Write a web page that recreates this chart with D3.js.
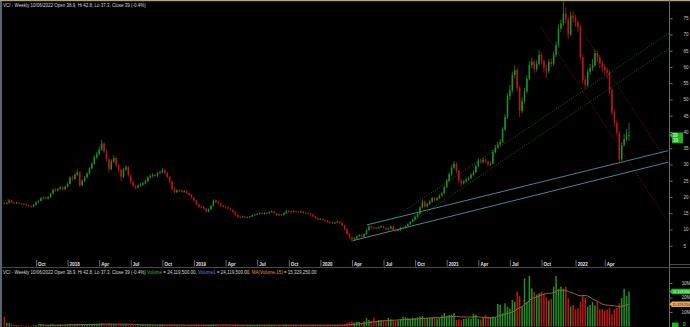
<!DOCTYPE html>
<html>
<head>
<meta charset="utf-8">
<script src="https://cdn.jsdelivr.net/npm/d3@7"></script>
<style>
  html, body { margin: 0; padding: 0; background: #000; }
  svg { display: block; font-family: "Liberation Sans", Arial, sans-serif; }
</style>
</head>
<body>
<svg id="chart" width="690" height="327"></svg>
<script>
// weekly bars, VCI, from 07/07/2017 to 10/06/2022
const closes = [
  18.0, 18.2, 19.0, 18.3, 18.1, 18.2, 18.0, 17.9, 17.8, 17.5,
  17.2, 17.0, 17.6, 18.4, 18.8, 19.6, 19.8, 19.5, 19.9, 21.0,
  22.2, 22.0, 22.5, 22.9, 22.4, 23.2, 24.0, 26.0, 25.6, 26.8,
  27.6, 23.6, 25.0, 26.0, 27.2, 28.8, 30.2, 32.2, 33.2, 34.6,
  36.4, 34.0, 31.5, 28.6, 31.0, 32.0, 29.8, 28.4, 26.2, 28.5,
  29.2, 26.6, 24.6, 23.4, 22.9, 23.5, 23.8, 24.2, 24.8, 26.0,
  26.4, 26.8, 26.5, 27.3, 27.6, 28.3, 27.4, 26.2, 24.8, 22.6,
  21.5, 22.0, 21.9, 21.6, 21.8, 21.2, 20.6, 19.8, 18.9, 17.8,
  17.0, 16.9, 16.5, 15.6, 16.2, 17.3, 18.9, 18.4, 18.0, 17.4,
  17.0, 16.8, 16.5, 16.0, 15.4, 14.5, 13.9, 13.8, 14.0, 13.7,
  13.8, 14.0, 14.4, 14.6, 14.8, 15.0, 14.8, 15.1, 15.0, 15.3,
  15.5, 15.0, 14.5, 14.6, 14.5, 15.0, 15.7, 15.6, 15.4, 15.6,
  15.5, 15.4, 15.5, 15.1, 15.0, 14.9, 14.6, 14.0, 13.5, 13.1,
  13.2, 12.9, 12.7, 12.4, 12.2, 12.0, 12.1, 12.4, 12.0, 11.3,
  10.1, 8.7, 7.6, 7.0, 7.2, 7.9, 8.3, 7.8, 8.6, 9.8,
  10.9, 10.6, 10.5, 10.4, 10.7, 10.9, 10.5, 10.1, 10.3, 10.9,
  9.8, 9.6, 9.8, 10.5, 10.5, 11.0, 11.6, 12.3, 13.0, 13.9,
  14.8, 16.8, 18.6, 17.1, 17.8, 18.6, 19.7, 19.1, 19.6, 20.4,
  21.1, 23.0, 25.0, 27.0, 29.0, 30.2, 28.0, 25.0, 24.2, 24.8,
  25.4, 25.8, 26.8, 27.6, 29.5, 31.2, 30.8, 31.4, 30.9, 30.0,
  30.2, 33.8, 35.2, 36.2, 37.0, 40.8, 44.6, 51.0, 52.8, 57.5,
  59.0, 53.5, 46.5, 49.5, 52.5, 56.4, 60.6, 61.5, 59.4, 61.0,
  63.7, 61.8, 59.6, 58.8, 61.5, 61.0, 63.8, 66.8, 71.8, 73.4,
  76.4, 74.6, 70.0, 75.8, 75.0, 73.8, 72.2, 63.0, 56.0, 54.5,
  58.5, 59.6, 60.5, 64.2, 63.0, 61.0, 60.0, 59.0, 58.2, 53.0,
  46.0, 42.8, 39.8, 31.6, 36.0, 37.8, 38.9, 39.0
];
const highs = [
  18.4, 18.5, 19.4, 19.1, 18.6, 18.5, 18.4, 18.2, 18.1, 17.9,
  17.6, 17.4, 17.8, 18.6, 19.0, 19.9, 20.2, 20.1, 20.3, 21.3,
  22.6, 22.8, 22.9, 23.3, 23.2, 23.6, 24.5, 26.4, 26.6, 27.3,
  28.4, 27.9, 25.4, 26.5, 27.6, 29.2, 30.8, 32.8, 33.9, 35.6,
  37.6, 36.8, 34.5, 32.0, 31.6, 32.8, 32.4, 30.2, 28.8, 29.0,
  29.8, 29.6, 27.0, 25.0, 23.8, 23.9, 24.2, 24.6, 25.3, 26.5,
  26.9, 27.3, 27.2, 27.8, 28.1, 29.0, 28.6, 27.7, 26.5, 25.0,
  23.0, 22.4, 22.4, 22.2, 22.1, 22.0, 21.4, 20.9, 20.0, 19.1,
  18.0, 17.3, 17.1, 16.7, 16.5, 17.5, 19.3, 19.2, 18.7, 18.2,
  17.6, 17.2, 17.0, 16.7, 16.2, 15.6, 14.7, 14.2, 14.3, 14.2,
  14.0, 14.2, 14.6, 14.8, 15.1, 15.3, 15.2, 15.4, 15.4, 15.6,
  15.9, 15.7, 15.2, 14.9, 14.8, 15.3, 16.0, 16.0, 15.8, 15.9,
  15.8, 15.7, 15.8, 15.7, 15.3, 15.2, 15.1, 14.8, 14.2, 13.7,
  13.5, 13.4, 13.1, 12.9, 12.6, 12.4, 12.4, 12.7, 12.6, 12.1,
  11.5, 10.3, 8.9, 7.9, 7.6, 8.2, 8.7, 8.6, 8.9, 10.1,
  11.3, 11.2, 10.9, 10.8, 11.0, 11.2, 11.1, 10.7, 10.6, 11.2,
  11.0, 10.0, 10.1, 10.8, 10.8, 11.3, 11.9, 12.6, 13.4, 14.3,
  15.2, 17.2, 19.2, 18.9, 18.2, 19.0, 20.1, 20.0, 20.0, 20.8,
  21.6, 23.5, 25.6, 27.6, 29.8, 31.0, 30.6, 28.4, 25.6, 25.3,
  25.9, 26.3, 27.3, 28.2, 30.1, 32.0, 31.8, 32.0, 31.9, 31.3,
  30.9, 34.5, 36.0, 37.0, 37.9, 41.5, 45.5, 52.0, 54.5, 58.6,
  60.5, 59.8, 54.2, 50.6, 53.6, 57.4, 61.8, 62.8, 62.2, 62.0,
  65.2, 64.4, 62.4, 60.6, 62.4, 62.6, 64.8, 67.8, 73.0, 74.6,
  80.2, 78.4, 75.4, 77.0, 77.2, 76.0, 74.6, 73.0, 64.0, 57.2,
  59.4, 61.0, 62.4, 65.4, 65.0, 63.6, 62.0, 60.8, 59.8, 58.8,
  53.6, 47.0, 43.6, 40.4, 36.8, 39.4, 40.8, 42.8
];
const lows = [
  17.7, 17.8, 18.0, 18.1, 17.9, 17.9, 17.8, 17.6, 17.5, 17.2,
  16.9, 16.7, 16.8, 17.4, 18.2, 18.6, 19.3, 19.2, 19.2, 19.7,
  20.8, 21.6, 21.7, 22.2, 22.0, 22.1, 22.9, 23.8, 25.0, 25.3,
  26.4, 23.2, 23.3, 24.6, 25.7, 26.9, 28.5, 29.9, 31.6, 32.8,
  34.2, 33.4, 31.0, 27.6, 28.2, 30.4, 29.2, 27.6, 24.9, 25.8,
  28.0, 26.2, 24.0, 23.0, 22.4, 22.6, 23.1, 23.4, 23.9, 24.5,
  25.6, 26.0, 26.1, 26.2, 27.0, 27.3, 27.0, 25.8, 24.3, 21.8,
  21.1, 21.2, 21.5, 21.2, 21.3, 20.9, 20.2, 19.5, 18.6, 17.5,
  16.7, 16.5, 16.2, 15.2, 15.3, 16.0, 17.1, 18.1, 17.7, 17.1,
  16.7, 16.5, 16.2, 15.7, 15.1, 14.2, 13.6, 13.5, 13.6, 13.4,
  13.5, 13.6, 13.8, 14.2, 14.4, 14.6, 14.6, 14.6, 14.8, 14.8,
  15.1, 14.8, 14.2, 14.3, 14.2, 14.3, 14.8, 15.3, 15.1, 15.2,
  15.2, 15.1, 15.2, 14.9, 14.7, 14.6, 14.3, 13.7, 13.2, 12.8,
  12.9, 12.6, 12.4, 12.1, 11.9, 11.7, 11.8, 11.9, 11.7, 11.0,
  9.7, 8.4, 7.2, 6.2, 6.6, 7.0, 7.7, 7.5, 7.6, 8.4,
  9.6, 10.3, 10.2, 10.1, 10.2, 10.5, 10.3, 9.9, 9.9, 10.1,
  9.6, 9.3, 9.4, 9.6, 10.2, 10.3, 10.8, 11.4, 12.1, 12.8,
  13.6, 14.6, 16.5, 16.7, 16.8, 17.5, 18.3, 18.7, 18.8, 19.3,
  20.1, 20.8, 22.7, 24.6, 26.6, 28.5, 27.2, 24.2, 23.5, 23.8,
  24.4, 25.0, 25.5, 26.4, 27.3, 29.1, 30.2, 30.3, 30.4, 29.4,
  29.5, 30.0, 33.3, 34.8, 35.6, 36.6, 40.2, 44.0, 49.8, 52.0,
  56.6, 52.6, 44.6, 45.8, 48.8, 51.8, 55.8, 59.6, 58.0, 58.6,
  60.4, 60.8, 58.2, 56.6, 58.0, 60.0, 60.4, 63.0, 66.0, 70.8,
  72.6, 73.4, 68.6, 69.4, 73.6, 72.4, 70.8, 62.0, 55.0, 53.2,
  53.8, 57.6, 58.8, 60.0, 61.4, 59.6, 58.4, 57.6, 56.4, 51.6,
  45.2, 41.6, 38.6, 30.2, 31.0, 35.4, 37.0, 37.3
];
const firstOpen = 18.1;
// weekly volume, millions of shares
const volumes = [
  6.8, 2.6, 2.4, 1.8, 1.2, 0.9, 0.7, 0.8, 0.6, 0.7,
  0.6, 0.5, 0.8, 0.9, 1.1, 1.3, 0.9, 0.8, 1.0, 1.4,
  1.5, 1.1, 1.0, 1.2, 0.9, 1.1, 1.3, 1.9, 1.4, 1.6,
  1.8, 2.0, 1.4, 1.2, 1.3, 1.5, 1.7, 1.9, 1.6, 1.8,
  2.1, 1.7, 1.6, 2.0, 1.5, 1.3, 1.2, 1.4, 1.6, 1.3,
  1.1, 1.2, 1.4, 1.0, 0.9, 0.8, 0.9, 1.0, 0.9, 1.1,
  1.0, 0.9, 0.8, 1.0, 1.1, 1.2, 0.9, 1.0, 1.1, 1.3,
  1.0, 0.8, 0.7, 0.8, 0.7, 0.8, 0.9, 1.0, 1.1, 1.2,
  1.0, 0.8, 0.9, 1.1, 1.0, 1.2, 1.4, 1.0, 0.9, 0.8,
  0.8, 0.7, 0.8, 0.9, 1.0, 1.1, 1.0, 0.8, 0.9, 0.7,
  0.8, 0.9, 1.0, 0.8, 0.9, 1.0, 0.8, 0.9, 0.8, 1.0,
  1.1, 0.9, 0.8, 0.7, 0.8, 1.0, 1.2, 0.9, 0.8, 0.9,
  0.8, 0.7, 0.8, 0.9, 0.8, 0.9, 1.0, 1.1, 1.0, 0.9,
  0.8, 0.9, 0.8, 1.0, 0.9, 0.8, 0.9, 1.0, 0.9, 1.1,
  1.6, 2.4, 3.0, 3.5, 2.8, 3.3, 3.2, 2.4, 3.6, 5.8,
  4.5, 3.9, 6.1, 3.8, 4.5, 4.3, 4.6, 3.6, 5.8, 4.9,
  4.2, 3.8, 4.0, 5.1, 6.6, 6.4, 5.8, 5.5, 6.0, 5.8,
  6.3, 6.9, 7.2, 5.8, 5.6, 5.9, 6.1, 6.6, 5.4, 6.2,
  7.6, 9.3, 7.4, 8.0, 8.2, 9.3, 4.6, 4.9, 4.3, 5.2,
  5.5, 5.8, 5.3, 8.7, 8.0, 5.1, 4.9, 6.0, 8.0, 6.6,
  6.4, 6.9, 6.6, 15.5, 14.8, 9.3, 16.0, 13.7, 12.4, 18.3,
  17.0, 24.0, 21.0, 14.0, 33.2, 17.0, 36.7, 26.3, 24.0, 22.0,
  23.0, 24.0, 22.5, 20.0, 18.0, 19.0, 27.5, 36.7, 26.0, 27.5,
  26.0, 27.5, 19.5, 13.7, 15.0, 11.8, 12.6, 17.0, 21.7, 19.5,
  13.7, 14.8, 17.0, 14.6, 17.0, 11.7, 12.0, 11.0, 11.8, 12.7,
  8.3, 11.8, 12.7, 16.0, 19.5, 26.0, 21.0, 24.1195
];
const maPeriod = 15;

const priceTicks = [5, 10, 15, 20, 25, 30, 35, 40, 45, 50, 55, 60, 65, 70, 75];
const volumeTicks = [10, 20, 30];
const monthNames = {3: "Apr", 6: "Jul", 9: "Oct"};

// drawn trend lines, [bar index, price]
const channelLow  = [[143.3, 6.55], [273.1, 30.7]];
const channelHigh = [[149.1, 11.4], [273.1, 34.25]];
const riseUpper   = [[159.5, 13.2], [273.5, 70.4]];
const riseLower   = [[167.7, 12.3], [273.5, 65.7]];
const fallUpper   = [[236.0, 72.9], [273.1, 30.5]];
const fallLower   = [[220.8, 72.3], [273.1, 12.3]];

const titleText = "VCI - Weekly 10/06/2022 Open 38.9, Hi 42.8, Lo 37.3, Close 39 (-0.4%)";

const green = "#1f9322", red = "#bf1614";

const svg = d3.select("svg#chart");
const dates = d3.timeFriday.range(new Date(2017, 6, 7), new Date(2022, 5, 11));

const x = d3.scaleLinear().domain([0, closes.length - 1]).range([4.4, 629]);
const y = d3.scaleLinear().domain([0, 80.6]).range([262, 0]);
const vy = d3.scaleLinear().domain([0, 30]).range([326.5, 283]);

const bars = closes.map(function (c, i) {
  let o = i == 0 ? firstOpen : closes[i - 1];
  return {i: i, o: o, h: highs[i], l: lows[i], c: c, v: volumes[i], up: c >= o};
});

// frame
svg.append("rect").attr("width", 690).attr("height", 327).attr("fill", "#000");
svg.append("rect").attr("x", 0).attr("y", 0).attr("width", 2).attr("height", 327).attr("fill", "#5a616f");
svg.append("rect").attr("x", 0).attr("y", 0).attr("width", 690).attr("height", 1.2).attr("fill", "#b9a474");

let defs = svg.append("defs");
defs.append("clipPath").attr("id", "mainClip")
  .append("rect").attr("x", 2).attr("y", 0).attr("width", 667).attr("height", 258);
defs.append("clipPath").attr("id", "volClip")
  .append("rect").attr("x", 2).attr("y", 276).attr("width", 667).attr("height", 51);

// trend lines
const main = svg.append("g").attr("clip-path", "url(#mainClip)");
function trend(pts, color, dash, width) {
  main.append("line")
    .attr("x1", x(pts[0][0])).attr("y1", y(pts[0][1]))
    .attr("x2", x(pts[1][0])).attr("y2", y(pts[1][1]))
    .attr("stroke", color)
    .attr("stroke-width", width)
    .attr("stroke-dasharray", dash);
}
trend(riseUpper, "#1c6e1f", "1,1.6", 0.9);
trend(riseLower, "#1c6e1f", "1,1.6", 0.9);
trend(fallUpper, "#7e1a1a", "1,1.6", 0.9);
trend(fallLower, "#7e1a1a", "1,1.6", 0.9);
trend(channelLow, "#4d969c", null, 0.9);
trend(channelHigh, "#4d969c", null, 0.9);

// candles
let candle = main.selectAll("g.bar").data(bars).enter().append("g");
candle.append("line")
  .attr("x1", d => x(d.i)).attr("x2", d => x(d.i))
  .attr("y1", d => y(d.h)).attr("y2", d => y(d.l))
  .attr("stroke", d => d.up ? green : red)
  .attr("stroke-width", 0.8);
candle.append("rect")
  .attr("x", d => x(d.i) - 0.75)
  .attr("width", 1.5)
  .attr("y", d => y(Math.max(d.o, d.c)))
  .attr("height", d => Math.max(0.8, Math.abs(y(d.o) - y(d.c))))
  .attr("fill", d => d.up ? green : red);

// volume panel
const vol = svg.append("g").attr("clip-path", "url(#volClip)");
vol.selectAll("rect").data(bars).enter().append("rect")
  .attr("x", d => x(d.i) - 0.75)
  .attr("width", 1.5)
  .attr("y", d => vy(d.v))
  .attr("height", d => vy(0) - vy(d.v))
  .attr("fill", d => d.up ? green : red);

let ma = [];
for (let i = maPeriod - 1; i < volumes.length; i++) {
  ma.push([i, d3.mean(volumes.slice(i - maPeriod + 1, i + 1))]);
}
vol.append("path")
  .attr("d", d3.line().x(d => x(d[0])).y(d => vy(d[1]))(ma))
  .attr("fill", "none")
  .attr("stroke", "#9a6630")
  .attr("stroke-width", 1);

// right axes
let pAxis = svg.append("g").attr("transform", "translate(669.5,0)")
  .call(d3.axisRight(y).tickValues(priceTicks).tickSize(3).tickPadding(11).tickFormat(d3.format("d")));
let vAxis = svg.append("g").attr("transform", "translate(669.5,0)")
  .call(d3.axisRight(vy).tickValues(volumeTicks).tickSize(3).tickPadding(9).tickFormat(d => d + "M"));
[pAxis, vAxis].forEach(function (g) {
  g.select(".domain").remove();
  g.selectAll("line").attr("stroke", "#6a6a6a");
  g.selectAll("text").attr("fill", "#c8c8c8").attr("font-size", 4.6).attr("font-family", null);
});
svg.append("text").attr("x", 683).attr("y", 325.8).attr("fill", "#c8c8c8").attr("font-size", 4.6).text("0");
svg.append("line").attr("x1", 669.5).attr("x2", 669.5).attr("y1", 0).attr("y2", 327)
  .attr("stroke", "#6a6a6a").attr("stroke-width", 1);

// date axis, one tick on the first bar of each quarter
let qIdx = [];
dates.forEach(function (d, i) {
  if (i > 0 && d.getMonth() != dates[i - 1].getMonth() && d.getMonth() % 3 == 0) qIdx.push(i);
});
let dAxis = svg.append("g").attr("transform", "translate(0,260)")
  .call(d3.axisBottom(x).tickValues(qIdx).tickSize(6.5)
    .tickFormat(i => dates[i].getMonth() == 0 ? dates[i].getFullYear() : monthNames[dates[i].getMonth()]));
dAxis.select(".domain").remove();
dAxis.selectAll("line").attr("stroke", "#6a6a6a");
dAxis.selectAll("text")
  .attr("x", 1.6).attr("y", 5.9).attr("dy", null)
  .attr("text-anchor", "start")
  .attr("fill", "#e6e6e6").attr("font-size", 4.5).attr("font-weight", "bold").attr("font-family", null);

svg.append("line").attr("x1", 2).attr("x2", 690).attr("y1", 267.5).attr("y2", 267.5)
  .attr("stroke", "#5c5c5c").attr("stroke-width", 0.8);
svg.append("line").attr("x1", 669.5).attr("x2", 690).attr("y1", 264.5).attr("y2", 264.5)
  .attr("stroke", "#5c5c5c").attr("stroke-width", 0.8);

// titles
svg.append("text").attr("x", 3).attr("y", 6.6)
  .attr("fill", "#d8d8d8").attr("font-size", 4.5).text(titleText);
let vt = svg.append("text").attr("x", 3).attr("y", 273.6).attr("font-size", 4.5).attr("fill", "#d8d8d8");
vt.append("tspan").text(titleText + " ");
vt.append("tspan").attr("fill", "#22c022").text("Volume");
vt.append("tspan").text(" = 24,119,500.00, ");
vt.append("tspan").attr("fill", "#5f82d8").text("Volume1");
vt.append("tspan").text(" = 24,119,500.00, ");
vt.append("tspan").attr("fill", "#e8902c").text("MA(Volume,15)");
vt.append("tspan").text(" = 15,329,250.00");

// value flags on the right axis
function flag(yc, h, fill, textColor, label, w, fs) {
  let g = svg.append("g");
  g.append("path")
    .attr("d", "M669.5," + yc + "L672," + (yc - h / 2) + "L" + (672 + w) + "," + (yc - h / 2) +
      "L" + (672 + w) + "," + (yc + h / 2) + "L672," + (yc + h / 2) + "Z")
    .attr("fill", fill);
  g.append("text").attr("x", 672.4).attr("y", yc + fs * 0.36)
    .attr("font-size", fs).attr("fill", textColor).text(label);
  return g;
}
let last = bars[bars.length - 1];
flag(y(last.c), 5.4, "#1fb41f", "#ffffff", d3.format("d")(last.c), 11, 4.5);
svg.append("rect").attr("x", 672).attr("y", y(last.c) + 2.7).attr("width", 11).attr("height", 5.4).attr("fill", "#1fb41f");
svg.append("text").attr("x", 673).attr("y", y(last.c) + 7.1).attr("font-size", 4.5).attr("fill", "#fff")
  .text(d3.format("d")(last.c));
flag(vy(last.v), 5.4, "#1fb41f", "#ffffff", d3.format(",")(Math.round(last.v * 1e6)), 20, 3.5);
flag(vy(d3.mean(volumes.slice(-maPeriod))), 5.4, "#f0a95c", "#2a1a00", "15,329,250", 20, 3.5);
svg.append("rect").attr("x", 672).attr("y", 322.6).attr("width", 6.5).attr("height", 4.4).attr("fill", "#1fb41f");
</script>
</body>
</html>
